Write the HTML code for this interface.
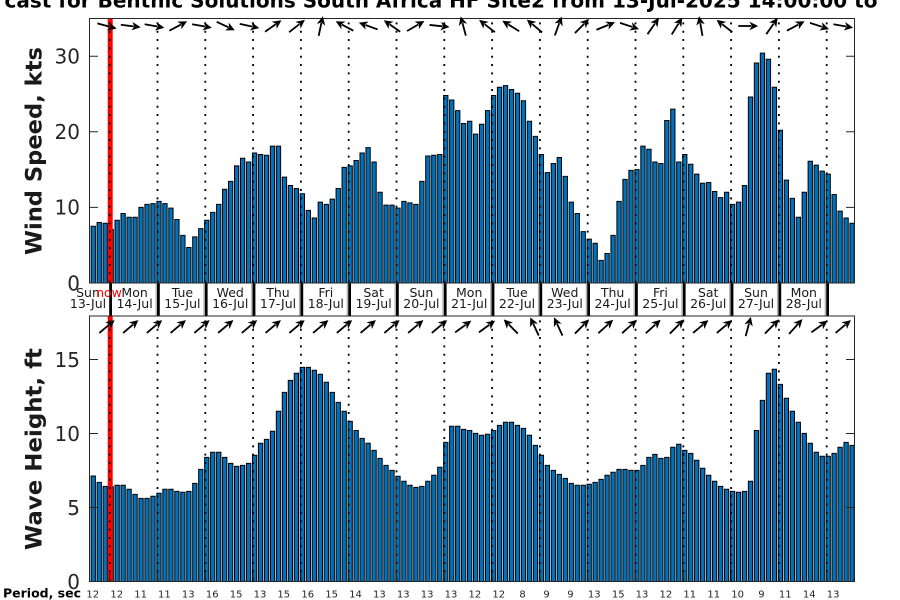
<!DOCTYPE html>
<html><head><meta charset="utf-8">
<style>
html,body{margin:0;padding:0;background:#fff;}
svg{display:block;}
.b rect{fill:#0072bd;stroke:#000;stroke-width:1;vector-effect:non-scaling-stroke;}
text{font-family:"DejaVu Sans","Liberation Sans",sans-serif;}
.tk{font-size:20px;fill:#262626;text-anchor:end;}
.dl{font-size:12.5px;fill:#1a1a1a;text-anchor:middle;}
.pl{font-size:10px;fill:#262626;text-anchor:middle;}
.dot{stroke:#000;stroke-width:1.8;stroke-dasharray:2 6.33;stroke-dashoffset:-4.4;fill:none;}
</style></head>
<body>
<svg width="900" height="600" viewBox="0 0 900 600" xmlns="http://www.w3.org/2000/svg">
<defs>
<g id="ar"><path d="M-10,0 H3" stroke="#000" stroke-width="1.8"/><path d="M10,0 L1.2,-4.3 L3.6,0 L1.2,4.3 Z" fill="#000"/></g>
</defs>
<rect width="900" height="600" fill="#fff"/>

<!-- title -->
<text x="4.5" y="7.5" font-size="20" font-weight="bold" fill="#000" textLength="873" lengthAdjust="spacingAndGlyphs">cast for Benthic Solutions South Africa HF Site2 from 13-Jul-2025 14:00:00 to</text>

<!-- wind bars -->
<g class="b" transform="translate(91.1,283) scale(5.975,-7.56)">
<rect x="0" width=".72" height="7.5"/><rect x="1" width=".72" height="8.0"/><rect x="2" width=".72" height="7.9"/><rect x="3" width=".72" height="7.1"/><rect x="4" width=".72" height="8.3"/><rect x="5" width=".72" height="9.2"/><rect x="6" width=".72" height="8.7"/><rect x="7" width=".72" height="8.7"/>
<rect x="8" width=".72" height="10.0"/><rect x="9" width=".72" height="10.4"/><rect x="10" width=".72" height="10.5"/><rect x="11" width=".72" height="10.8"/><rect x="12" width=".72" height="10.5"/><rect x="13" width=".72" height="9.9"/><rect x="14" width=".72" height="8.4"/><rect x="15" width=".72" height="6.3"/>
<rect x="16" width=".72" height="4.7"/><rect x="17" width=".72" height="6.1"/><rect x="18" width=".72" height="7.2"/><rect x="19" width=".72" height="8.3"/><rect x="20" width=".72" height="9.35"/><rect x="21" width=".72" height="10.4"/><rect x="22" width=".72" height="12.4"/><rect x="23" width=".72" height="13.45"/>
<rect x="24" width=".72" height="15.5"/><rect x="25" width=".72" height="16.5"/><rect x="26" width=".72" height="16.0"/><rect x="27" width=".72" height="17.2"/><rect x="28" width=".72" height="17.0"/><rect x="29" width=".72" height="16.9"/><rect x="30" width=".72" height="18.1"/><rect x="31" width=".72" height="18.1"/>
<rect x="32" width=".72" height="14.0"/><rect x="33" width=".72" height="12.9"/><rect x="34" width=".72" height="12.5"/><rect x="35" width=".72" height="11.8"/><rect x="36" width=".72" height="9.6"/><rect x="37" width=".72" height="8.6"/><rect x="38" width=".72" height="10.7"/><rect x="39" width=".72" height="10.4"/>
<rect x="40" width=".72" height="11.1"/><rect x="41" width=".72" height="12.5"/><rect x="42" width=".72" height="15.3"/><rect x="43" width=".72" height="15.5"/><rect x="44" width=".72" height="16.2"/><rect x="45" width=".72" height="17.2"/><rect x="46" width=".72" height="17.9"/><rect x="47" width=".72" height="16.0"/>
<rect x="48" width=".72" height="12.0"/><rect x="49" width=".72" height="10.3"/><rect x="50" width=".72" height="10.3"/><rect x="51" width=".72" height="9.9"/><rect x="52" width=".72" height="10.8"/><rect x="53" width=".72" height="10.6"/><rect x="54" width=".72" height="10.4"/><rect x="55" width=".72" height="13.45"/>
<rect x="56" width=".72" height="16.8"/><rect x="57" width=".72" height="16.9"/><rect x="58" width=".72" height="17.0"/><rect x="59" width=".72" height="24.8"/><rect x="60" width=".72" height="24.2"/><rect x="61" width=".72" height="22.8"/><rect x="62" width=".72" height="21.1"/><rect x="63" width=".72" height="21.4"/>
<rect x="64" width=".72" height="19.7"/><rect x="65" width=".72" height="21.0"/><rect x="66" width=".72" height="22.8"/><rect x="67" width=".72" height="24.8"/><rect x="68" width=".72" height="25.9"/><rect x="69" width=".72" height="26.1"/><rect x="70" width=".72" height="25.6"/><rect x="71" width=".72" height="25.1"/>
<rect x="72" width=".72" height="24.1"/><rect x="73" width=".72" height="21.4"/><rect x="74" width=".72" height="19.4"/><rect x="75" width=".72" height="17.0"/><rect x="76" width=".72" height="14.6"/><rect x="77" width=".72" height="15.8"/><rect x="78" width=".72" height="16.6"/><rect x="79" width=".72" height="14.1"/>
<rect x="80" width=".72" height="10.7"/><rect x="81" width=".72" height="9.2"/><rect x="82" width=".72" height="6.8"/><rect x="83" width=".72" height="5.8"/><rect x="84" width=".72" height="5.25"/><rect x="85" width=".72" height="3.0"/><rect x="86" width=".72" height="3.9"/><rect x="87" width=".72" height="6.3"/>
<rect x="88" width=".72" height="10.8"/><rect x="89" width=".72" height="13.7"/><rect x="90" width=".72" height="14.9"/><rect x="91" width=".72" height="15.0"/><rect x="92" width=".72" height="18.1"/><rect x="93" width=".72" height="17.7"/><rect x="94" width=".72" height="16.0"/><rect x="95" width=".72" height="15.8"/>
<rect x="96" width=".72" height="21.5"/><rect x="97" width=".72" height="23.0"/><rect x="98" width=".72" height="16.0"/><rect x="99" width=".72" height="17.0"/><rect x="100" width=".72" height="15.7"/><rect x="101" width=".72" height="14.4"/><rect x="102" width=".72" height="13.2"/><rect x="103" width=".72" height="13.3"/>
<rect x="104" width=".72" height="12.1"/><rect x="105" width=".72" height="11.3"/><rect x="106" width=".72" height="12.0"/><rect x="107" width=".72" height="10.4"/><rect x="108" width=".72" height="10.7"/><rect x="109" width=".72" height="12.9"/><rect x="110" width=".72" height="24.6"/><rect x="111" width=".72" height="29.1"/>
<rect x="112" width=".72" height="30.4"/><rect x="113" width=".72" height="29.6"/><rect x="114" width=".72" height="25.9"/><rect x="115" width=".72" height="20.2"/><rect x="116" width=".72" height="13.6"/><rect x="117" width=".72" height="11.2"/><rect x="118" width=".72" height="8.7"/><rect x="119" width=".72" height="12.0"/>
<rect x="120" width=".72" height="16.1"/><rect x="121" width=".72" height="15.6"/><rect x="122" width=".72" height="14.8"/><rect x="123" width=".72" height="14.4"/><rect x="124" width=".72" height="11.7"/><rect x="125" width=".72" height="9.5"/><rect x="126" width=".72" height="8.6"/><rect x="127" width=".72" height="7.9"/>
</g>

<!-- wave bars -->
<g class="b" transform="translate(91.1,581.5) scale(5.975,-14.8)">
<rect x="0" width=".72" height="7.13"/><rect x="1" width=".72" height="6.70"/><rect x="2" width=".72" height="6.43"/><rect x="3" width=".72" height="6.4"/><rect x="4" width=".72" height="6.5"/><rect x="5" width=".72" height="6.5"/><rect x="6" width=".72" height="6.23"/><rect x="7" width=".72" height="5.89"/>
<rect x="8" width=".72" height="5.62"/><rect x="9" width=".72" height="5.62"/><rect x="10" width=".72" height="5.76"/><rect x="11" width=".72" height="5.96"/><rect x="12" width=".72" height="6.23"/><rect x="13" width=".72" height="6.23"/><rect x="14" width=".72" height="6.09"/><rect x="15" width=".72" height="6.03"/>
<rect x="16" width=".72" height="6.09"/><rect x="17" width=".72" height="6.63"/><rect x="18" width=".72" height="7.58"/><rect x="19" width=".72" height="8.39"/><rect x="20" width=".72" height="8.73"/><rect x="21" width=".72" height="8.73"/><rect x="22" width=".72" height="8.39"/><rect x="23" width=".72" height="7.98"/>
<rect x="24" width=".72" height="7.78"/><rect x="25" width=".72" height="7.85"/><rect x="26" width=".72" height="7.98"/><rect x="27" width=".72" height="8.53"/><rect x="28" width=".72" height="9.34"/><rect x="29" width=".72" height="9.6"/><rect x="30" width=".72" height="10.15"/><rect x="31" width=".72" height="11.5"/>
<rect x="32" width=".72" height="12.78"/><rect x="33" width=".72" height="13.59"/><rect x="34" width=".72" height="14.07"/><rect x="35" width=".72" height="14.47"/><rect x="36" width=".72" height="14.47"/><rect x="37" width=".72" height="14.27"/><rect x="38" width=".72" height="14.0"/><rect x="39" width=".72" height="13.46"/>
<rect x="40" width=".72" height="12.78"/><rect x="41" width=".72" height="12.1"/><rect x="42" width=".72" height="11.5"/><rect x="43" width=".72" height="10.82"/><rect x="44" width=".72" height="10.2"/><rect x="45" width=".72" height="9.67"/><rect x="46" width=".72" height="9.34"/><rect x="47" width=".72" height="8.86"/>
<rect x="48" width=".72" height="8.32"/><rect x="49" width=".72" height="7.85"/><rect x="50" width=".72" height="7.51"/><rect x="51" width=".72" height="7.11"/><rect x="52" width=".72" height="6.77"/><rect x="53" width=".72" height="6.5"/><rect x="54" width=".72" height="6.36"/><rect x="55" width=".72" height="6.43"/>
<rect x="56" width=".72" height="6.77"/><rect x="57" width=".72" height="7.18"/><rect x="58" width=".72" height="7.72"/><rect x="59" width=".72" height="9.4"/><rect x="60" width=".72" height="10.49"/><rect x="61" width=".72" height="10.49"/><rect x="62" width=".72" height="10.28"/><rect x="63" width=".72" height="10.2"/>
<rect x="64" width=".72" height="10.01"/><rect x="65" width=".72" height="9.88"/><rect x="66" width=".72" height="9.95"/><rect x="67" width=".72" height="10.2"/><rect x="68" width=".72" height="10.55"/><rect x="69" width=".72" height="10.76"/><rect x="70" width=".72" height="10.76"/><rect x="71" width=".72" height="10.55"/>
<rect x="72" width=".72" height="10.35"/><rect x="73" width=".72" height="9.88"/><rect x="74" width=".72" height="9.2"/><rect x="75" width=".72" height="8.53"/><rect x="76" width=".72" height="7.85"/><rect x="77" width=".72" height="7.51"/><rect x="78" width=".72" height="7.24"/><rect x="79" width=".72" height="6.97"/>
<rect x="80" width=".72" height="6.63"/><rect x="81" width=".72" height="6.5"/><rect x="82" width=".72" height="6.5"/><rect x="83" width=".72" height="6.57"/><rect x="84" width=".72" height="6.7"/><rect x="85" width=".72" height="6.9"/><rect x="86" width=".72" height="7.18"/><rect x="87" width=".72" height="7.38"/>
<rect x="88" width=".72" height="7.58"/><rect x="89" width=".72" height="7.58"/><rect x="90" width=".72" height="7.51"/><rect x="91" width=".72" height="7.51"/><rect x="92" width=".72" height="7.85"/><rect x="93" width=".72" height="8.39"/><rect x="94" width=".72" height="8.59"/><rect x="95" width=".72" height="8.32"/>
<rect x="96" width=".72" height="8.39"/><rect x="97" width=".72" height="9.07"/><rect x="98" width=".72" height="9.27"/><rect x="99" width=".72" height="8.86"/><rect x="100" width=".72" height="8.66"/><rect x="101" width=".72" height="8.19"/><rect x="102" width=".72" height="7.65"/><rect x="103" width=".72" height="7.18"/>
<rect x="104" width=".72" height="6.77"/><rect x="105" width=".72" height="6.43"/><rect x="106" width=".72" height="6.23"/><rect x="107" width=".72" height="6.09"/><rect x="108" width=".72" height="6.03"/><rect x="109" width=".72" height="6.09"/><rect x="110" width=".72" height="6.77"/><rect x="111" width=".72" height="10.2"/>
<rect x="112" width=".72" height="12.24"/><rect x="113" width=".72" height="14.07"/><rect x="114" width=".72" height="14.34"/><rect x="115" width=".72" height="13.32"/><rect x="116" width=".72" height="12.38"/><rect x="117" width=".72" height="11.5"/><rect x="118" width=".72" height="10.76"/><rect x="119" width=".72" height="10.01"/>
<rect x="120" width=".72" height="9.34"/><rect x="121" width=".72" height="8.73"/><rect x="122" width=".72" height="8.46"/><rect x="123" width=".72" height="8.46"/><rect x="124" width=".72" height="8.66"/><rect x="125" width=".72" height="9.07"/><rect x="126" width=".72" height="9.4"/><rect x="127" width=".72" height="9.2"/>
</g>

<!-- now line -->
<rect x="107.7" y="18.5" width="5" height="264.5" fill="#ff0000"/>
<rect x="107.7" y="316" width="5" height="265.5" fill="#ff0000"/>

<!-- dotted midnight lines -->
<path class="dot" d="M109.7,18V283M157.5,18V283M205.3,18V283M253.1,18V283M300.9,18V283M348.7,18V283M396.5,18V283M444.3,18V283M492.1,18V283M539.9,18V283M587.7,18V283M635.5,18V283M683.3,18V283M731.1,18V283M778.9,18V283M826.7,18V283"/>
<path class="dot" d="M109.7,316V581M157.5,316V581M205.3,316V581M253.1,316V581M300.9,316V581M348.7,316V581M396.5,316V581M444.3,316V581M492.1,316V581M539.9,316V581M587.7,316V581M635.5,316V581M683.3,316V581M731.1,316V581M778.9,316V581M826.7,316V581"/>

<!-- day box separators -->
<g fill="#000">
<rect x="109.2" y="283" width="2.8" height="33"/><rect x="157" y="283" width="2.8" height="33"/><rect x="204.8" y="283" width="2.8" height="33"/><rect x="252.6" y="283" width="2.8" height="33"/><rect x="300.4" y="283" width="2.8" height="33"/><rect x="348.2" y="283" width="2.8" height="33"/><rect x="396" y="283" width="2.8" height="33"/><rect x="443.8" y="283" width="2.8" height="33"/><rect x="491.6" y="283" width="2.8" height="33"/><rect x="539.4" y="283" width="2.8" height="33"/><rect x="587.2" y="283" width="2.8" height="33"/><rect x="635" y="283" width="2.8" height="33"/><rect x="682.8" y="283" width="2.8" height="33"/><rect x="730.6" y="283" width="2.8" height="33"/><rect x="778.4" y="283" width="2.8" height="33"/><rect x="826.2" y="283" width="2.8" height="33"/>
</g>
<g fill="#b0b0b0">
<rect x="155.5" y="284" width="1.4" height="32"/><rect x="203.3" y="284" width="1.4" height="32"/><rect x="251.1" y="284" width="1.4" height="32"/><rect x="298.9" y="284" width="1.4" height="32"/><rect x="346.7" y="284" width="1.4" height="32"/><rect x="394.5" y="284" width="1.4" height="32"/><rect x="442.3" y="284" width="1.4" height="32"/><rect x="490.1" y="284" width="1.4" height="32"/><rect x="537.9" y="284" width="1.4" height="32"/><rect x="585.7" y="284" width="1.4" height="32"/><rect x="633.5" y="284" width="1.4" height="32"/><rect x="681.3" y="284" width="1.4" height="32"/><rect x="729.1" y="284" width="1.4" height="32"/><rect x="776.9" y="284" width="1.4" height="32"/><rect x="824.7" y="284" width="1.4" height="32"/>
</g>

<!-- axes frames -->
<g fill="none" stroke="#262626" stroke-width="1">
<rect x="89.5" y="18.5" width="765" height="264.5"/>
<rect x="89.5" y="316" width="765" height="265.5"/>
<path d="M90,283H98M90,207.4H98M90,131.8H98M90,56.2H98M854,283H846M854,207.4H846M854,131.8H846M854,56.2H846"/>
<path d="M90,581.5H98M90,507.5H98M90,433.5H98M90,359.5H98M854,581.5H846M854,507.5H846M854,433.5H846M854,359.5H846"/>
<path d="M109.7,581V572M157.5,581V572M205.3,581V572M253.1,581V572M300.9,581V572M348.7,581V572M396.5,581V572M444.3,581V572M492.1,581V572M539.9,581V572M587.7,581V572M635.5,581V572M683.3,581V572M731.1,581V572M778.9,581V572M826.7,581V572"/>
</g>

<!-- tick labels -->
<text class="tk" x="80" y="290.3">0</text>
<text class="tk" x="80" y="214.7">10</text>
<text class="tk" x="80" y="139.1">20</text>
<text class="tk" x="80" y="63.5">30</text>
<text class="tk" x="80" y="588.8">0</text>
<text class="tk" x="80" y="514.8">5</text>
<text class="tk" x="80" y="440.8">10</text>
<text class="tk" x="80" y="366.8">15</text>

<!-- y labels -->
<text transform="translate(41.5,151) rotate(-90)" text-anchor="middle" font-size="22" font-weight="bold" fill="#1a1a1a" textLength="208" lengthAdjust="spacingAndGlyphs">Wind Speed, kts</text>
<text transform="translate(41.5,449) rotate(-90)" text-anchor="middle" font-size="22" font-weight="bold" fill="#1a1a1a" textLength="202" lengthAdjust="spacingAndGlyphs">Wave Height, ft</text>

<!-- day labels -->
<text class="dl" x="88" y="297">Sun</text><text class="dl" x="88" y="308">13-Jul</text>
<text x="109" y="297" font-size="12.5" fill="#ff0000" text-anchor="middle">now</text>
<text class="dl" x="134.6" y="297">Mon</text><text class="dl" x="134.6" y="308">14-Jul</text>
<text class="dl" x="182.4" y="297">Tue</text><text class="dl" x="182.4" y="308">15-Jul</text>
<text class="dl" x="230.2" y="297">Wed</text><text class="dl" x="230.2" y="308">16-Jul</text>
<text class="dl" x="278" y="297">Thu</text><text class="dl" x="278" y="308">17-Jul</text>
<text class="dl" x="325.8" y="297">Fri</text><text class="dl" x="325.8" y="308">18-Jul</text>
<text class="dl" x="373.6" y="297">Sat</text><text class="dl" x="373.6" y="308">19-Jul</text>
<text class="dl" x="421.4" y="297">Sun</text><text class="dl" x="421.4" y="308">20-Jul</text>
<text class="dl" x="469.2" y="297">Mon</text><text class="dl" x="469.2" y="308">21-Jul</text>
<text class="dl" x="517" y="297">Tue</text><text class="dl" x="517" y="308">22-Jul</text>
<text class="dl" x="564.8" y="297">Wed</text><text class="dl" x="564.8" y="308">23-Jul</text>
<text class="dl" x="612.6" y="297">Thu</text><text class="dl" x="612.6" y="308">24-Jul</text>
<text class="dl" x="660.4" y="297">Fri</text><text class="dl" x="660.4" y="308">25-Jul</text>
<text class="dl" x="708.2" y="297">Sat</text><text class="dl" x="708.2" y="308">26-Jul</text>
<text class="dl" x="756" y="297">Sun</text><text class="dl" x="756" y="308">27-Jul</text>
<text class="dl" x="803.8" y="297">Mon</text><text class="dl" x="803.8" y="308">28-Jul</text>

<!-- wind arrows -->
<use href="#ar" transform="translate(107,26) rotate(15)"/>
<use href="#ar" transform="translate(130.75,26) rotate(7)"/>
<use href="#ar" transform="translate(154.5,26) rotate(10)"/>
<use href="#ar" transform="translate(178.25,26) rotate(-28)"/>
<use href="#ar" transform="translate(202,26) rotate(10)"/>
<use href="#ar" transform="translate(225.75,26) rotate(25)"/>
<use href="#ar" transform="translate(249.5,26) rotate(12)"/>
<use href="#ar" transform="translate(273.25,26) rotate(-35)"/>
<use href="#ar" transform="translate(297,26) rotate(-38)"/>
<use href="#ar" transform="translate(320.75,26) rotate(-78)"/>
<use href="#ar" transform="translate(344.5,26) rotate(-152)"/>
<use href="#ar" transform="translate(368.25,26) rotate(-160)"/>
<use href="#ar" transform="translate(392,26) rotate(-145)"/>
<use href="#ar" transform="translate(415.75,26) rotate(-30)"/>
<use href="#ar" transform="translate(439.5,26) rotate(6)"/>
<use href="#ar" transform="translate(463.25,26) rotate(-105)"/>
<use href="#ar" transform="translate(487,26) rotate(-142)"/>
<use href="#ar" transform="translate(510.75,26) rotate(-148)"/>
<use href="#ar" transform="translate(534.5,26) rotate(-140)"/>
<use href="#ar" transform="translate(558.25,26) rotate(-70)"/>
<use href="#ar" transform="translate(582,26) rotate(-45)"/>
<use href="#ar" transform="translate(605.75,26) rotate(-22)"/>
<use href="#ar" transform="translate(629.5,26) rotate(18)"/>
<use href="#ar" transform="translate(653.25,26) rotate(-55)"/>
<use href="#ar" transform="translate(677,26) rotate(-58)"/>
<use href="#ar" transform="translate(700.75,26) rotate(-100)"/>
<use href="#ar" transform="translate(724.5,26) rotate(-142)"/>
<use href="#ar" transform="translate(748.25,26) rotate(0)"/>
<use href="#ar" transform="translate(772,26) rotate(-55)"/>
<use href="#ar" transform="translate(795.75,26) rotate(-28)"/>
<use href="#ar" transform="translate(819.5,26) rotate(18)"/>
<use href="#ar" transform="translate(843.25,26) rotate(10)"/>

<!-- wave arrows -->
<use href="#ar" transform="translate(107,326.5) rotate(-40)"/>
<use href="#ar" transform="translate(130.75,326.5) rotate(-40)"/>
<use href="#ar" transform="translate(154.5,326.5) rotate(-40)"/>
<use href="#ar" transform="translate(178.25,326.5) rotate(-40)"/>
<use href="#ar" transform="translate(202,326.5) rotate(-40)"/>
<use href="#ar" transform="translate(225.75,326.5) rotate(-40)"/>
<use href="#ar" transform="translate(249.5,326.5) rotate(-40)"/>
<use href="#ar" transform="translate(273.25,326.5) rotate(-40)"/>
<use href="#ar" transform="translate(297,326.5) rotate(-40)"/>
<use href="#ar" transform="translate(320.75,326.5) rotate(-40)"/>
<use href="#ar" transform="translate(344.5,326.5) rotate(-40)"/>
<use href="#ar" transform="translate(368.25,326.5) rotate(-40)"/>
<use href="#ar" transform="translate(392,326.5) rotate(-40)"/>
<use href="#ar" transform="translate(415.75,326.5) rotate(-40)"/>
<use href="#ar" transform="translate(439.5,326.5) rotate(-40)"/>
<use href="#ar" transform="translate(463.25,326.5) rotate(-36)"/>
<use href="#ar" transform="translate(487,326.5) rotate(-36)"/>
<use href="#ar" transform="translate(510.75,326.5) rotate(-135)"/>
<use href="#ar" transform="translate(534.5,326.5) rotate(-115)"/>
<use href="#ar" transform="translate(558.25,326.5) rotate(-115)"/>
<use href="#ar" transform="translate(582,326.5) rotate(-45)"/>
<use href="#ar" transform="translate(605.75,326.5) rotate(-42)"/>
<use href="#ar" transform="translate(629.5,326.5) rotate(-42)"/>
<use href="#ar" transform="translate(653.25,326.5) rotate(-42)"/>
<use href="#ar" transform="translate(677,326.5) rotate(-45)"/>
<use href="#ar" transform="translate(700.75,326.5) rotate(-40)"/>
<use href="#ar" transform="translate(724.5,326.5) rotate(-40)"/>
<use href="#ar" transform="translate(748.25,326.5) rotate(-75)"/>
<use href="#ar" transform="translate(772,326.5) rotate(-45)"/>
<use href="#ar" transform="translate(795.75,326.5) rotate(-48)"/>
<use href="#ar" transform="translate(819.5,326.5) rotate(-36)"/>
<use href="#ar" transform="translate(843.25,326.5) rotate(-40)"/>

<!-- period row -->
<text x="3" y="597.5" font-size="12.5" font-weight="bold" fill="#000" textLength="78" lengthAdjust="spacingAndGlyphs">Period, sec</text>
<text class="pl" x="92.8" y="597.5">12</text>
<text class="pl" x="116.7" y="597.5">12</text>
<text class="pl" x="140.6" y="597.5">11</text>
<text class="pl" x="164.4" y="597.5">11</text>
<text class="pl" x="188.3" y="597.5">13</text>
<text class="pl" x="212.2" y="597.5">16</text>
<text class="pl" x="236.1" y="597.5">15</text>
<text class="pl" x="260" y="597.5">13</text>
<text class="pl" x="283.8" y="597.5">15</text>
<text class="pl" x="307.7" y="597.5">16</text>
<text class="pl" x="331.6" y="597.5">15</text>
<text class="pl" x="355.5" y="597.5">14</text>
<text class="pl" x="379.4" y="597.5">13</text>
<text class="pl" x="403.2" y="597.5">13</text>
<text class="pl" x="427.1" y="597.5">13</text>
<text class="pl" x="451" y="597.5">13</text>
<text class="pl" x="474.9" y="597.5">12</text>
<text class="pl" x="498.8" y="597.5">12</text>
<text class="pl" x="522.6" y="597.5">8</text>
<text class="pl" x="546.5" y="597.5">9</text>
<text class="pl" x="570.4" y="597.5">9</text>
<text class="pl" x="594.3" y="597.5">13</text>
<text class="pl" x="618.2" y="597.5">15</text>
<text class="pl" x="642" y="597.5">13</text>
<text class="pl" x="665.9" y="597.5">12</text>
<text class="pl" x="689.8" y="597.5">11</text>
<text class="pl" x="713.7" y="597.5">11</text>
<text class="pl" x="737.6" y="597.5">10</text>
<text class="pl" x="761.4" y="597.5">9</text>
<text class="pl" x="785.3" y="597.5">11</text>
<text class="pl" x="809.2" y="597.5">14</text>
<text class="pl" x="833.1" y="597.5">13</text>
</svg>
</body></html>
